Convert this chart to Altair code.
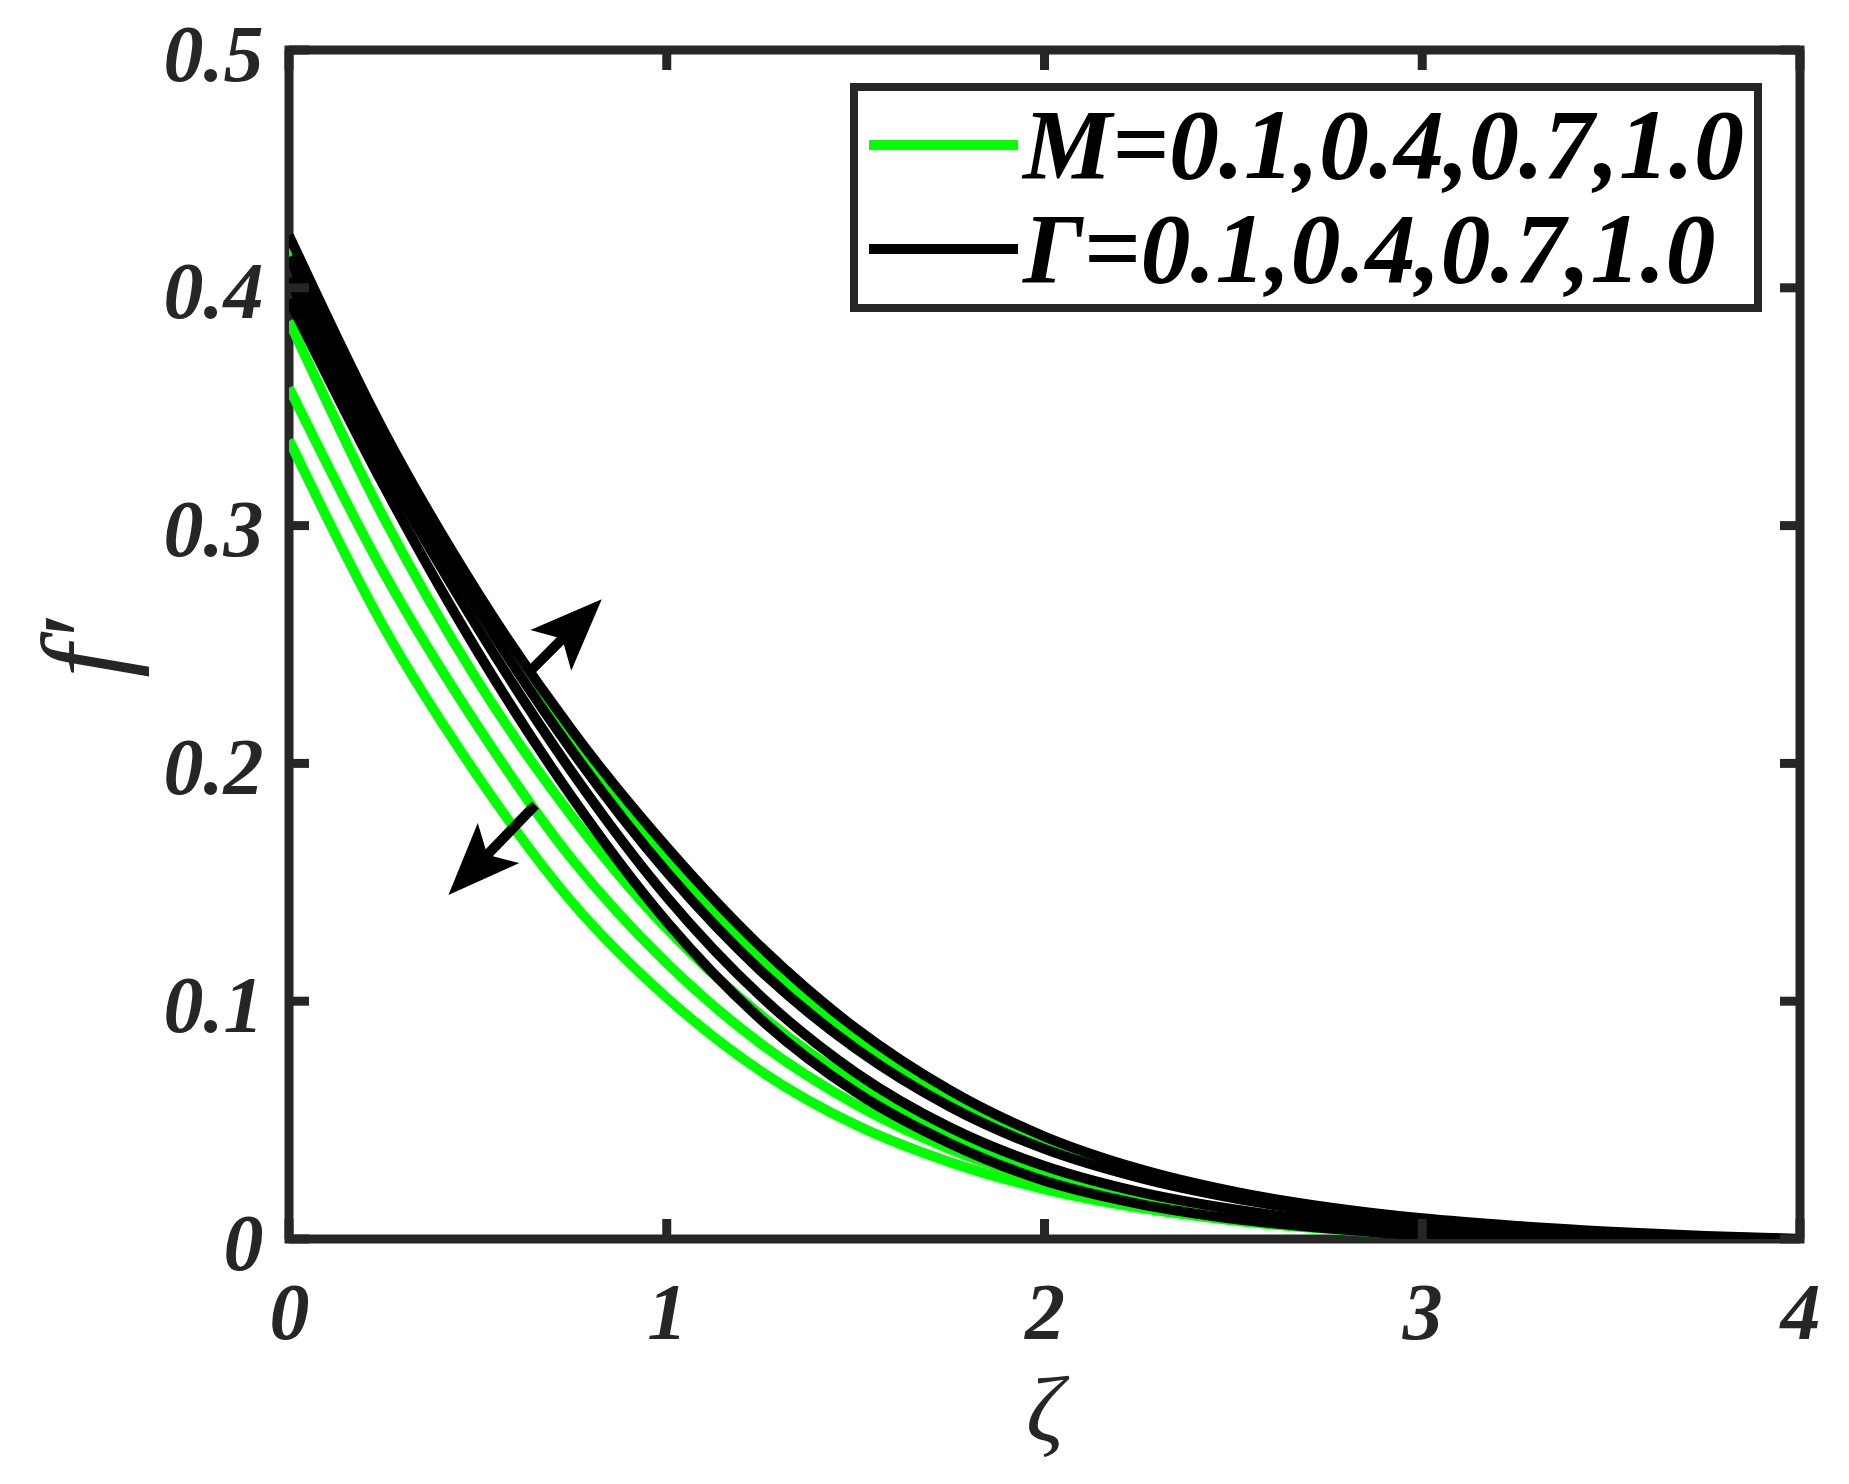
import math
import altair as alt
import pandas as pd

# ---------------- data ----------------
ZETA = [0, 0.25, 0.5, 0.75, 1.0, 1.25, 1.5, 1.75, 2.0, 2.25, 2.5, 2.75, 3.0, 3.25, 3.5, 3.75, 4.0]

M_CURVES = ["M=0.1", "M=0.4", "M=0.7", "M=1.0"]
F_M01 = [0.418, 0.3366, 0.2682, 0.2094, 0.1595, 0.1176, 0.0843, 0.0590, 0.0405, 0.0276, 0.0186, 0.0122, 0.0075, 0.0045, 0.0024, 0.0010, 0.0]
F_M04 = [0.386, 0.3035, 0.2345, 0.1775, 0.1305, 0.0940, 0.0655, 0.0445, 0.0280, 0.0178, 0.0110, 0.0063, 0.0030, 0.0012, 0.0004, 0.0, 0.0]
F_M07 = [0.358, 0.2805, 0.2155, 0.1595, 0.1160, 0.0820, 0.0566, 0.0378, 0.0242, 0.0150, 0.0088, 0.0048, 0.0021, 0.0008, 0.0002, 0.0, 0.0]
F_M10 = [0.336, 0.2575, 0.1945, 0.1415, 0.1015, 0.0705, 0.0480, 0.0323, 0.0210, 0.0132, 0.0078, 0.0042, 0.0018, 0.0006, 0.0002, 0.0, 0.0]

G_CURVES = ["Γ=0.1", "Γ=0.4", "Γ=0.7", "Γ=1.0"]
F_G01 = [0.395, 0.3170, 0.2468, 0.1856, 0.1334, 0.0922, 0.0618, 0.0402, 0.0245, 0.0148, 0.0085, 0.0045, 0.0015, 0.0004, 0.0, 0.0, 0.0]
F_G04 = [0.404, 0.3250, 0.2569, 0.1961, 0.1438, 0.1019, 0.0700, 0.0469, 0.0307, 0.0198, 0.0125, 0.0075, 0.0041, 0.0020, 0.0008, 0.0002, 0.0]
F_G07 = [0.413, 0.3332, 0.2647, 0.2051, 0.1543, 0.1126, 0.0801, 0.0556, 0.0379, 0.0258, 0.0172, 0.0110, 0.0064, 0.0035, 0.0017, 0.0006, 0.0]
F_G10 = [0.422, 0.3400, 0.2717, 0.2137, 0.1648, 0.1227, 0.0886, 0.0625, 0.0431, 0.0295, 0.0200, 0.0134, 0.0087, 0.0055, 0.0031, 0.0013, 0.0]

X_TICKS = [0, 1, 2, 3, 4]
Y_TICKS = [0, 0.1, 0.2, 0.3, 0.4, 0.5]

LEGEND_LABELS = ["M=0.1,0.4,0.7,1.0", "Γ=0.1,0.4,0.7,1.0"]

# arrows (annotation): tail -> tip in data coordinates
ARROW_TAIL_ZETA = [0.630, 0.652]
ARROW_TAIL_F = [0.2375, 0.1825]
ARROW_TIP_ZETA = [0.828, 0.422]
ARROW_TIP_F = [0.2690, 0.1447]

# ---------------- styling ----------------
W, H = 1511, 1189
FONT = "Liberation Serif"
AXIS_COLOR = "#262626"
GREEN = "#00ff00"
BLACK = "#000000"
LW = 10

xs = alt.Scale(domain=[0, 4], nice=False, zero=False)
ys = alt.Scale(domain=[0, 0.5], nice=False, zero=False)


def long_df(names, series):
    rows = []
    for name, vals in zip(names, series):
        for z, v in zip(ZETA, vals):
            rows.append({"zeta": z, "f": v, "curve": name})
    return pd.DataFrame(rows)


df_m = long_df(M_CURVES, [F_M01, F_M04, F_M07, F_M10])
df_g = long_df(G_CURVES, [F_G01, F_G04, F_G07, F_G10])

x_axis = alt.Axis(
    values=X_TICKS, format="d", title="ζ", domain=False, ticks=False, grid=False,
    labelFlush=False, labelFont=FONT, labelFontSize=80, labelFontStyle="italic",
    labelFontWeight="bold", labelColor=AXIS_COLOR, labelPadding=36,
    titleFont=FONT, titleFontSize=94, titleFontStyle="italic", titleFontWeight="normal",
    titleColor=AXIS_COLOR, titleY=201, titleBaseline="alphabetic",
)
y_axis = alt.Axis(
    values=Y_TICKS, format=".1~f", title="f′", domain=False, ticks=False, grid=False,
    labelFont=FONT, labelFontSize=80, labelFontStyle="italic", labelFontWeight="bold",
    labelColor=AXIS_COLOR, labelPadding=26, labelOffset=6,
    titleFont=FONT, titleFontSize=118, titleFontStyle="italic", titleFontWeight="normal",
    titleColor=AXIS_COLOR, titleAngle=270, titleX=-166, titleY=598,
    titleBaseline="alphabetic", titleAlign="center",
)


def X(field):
    return alt.X(field, scale=xs, axis=x_axis)


def Y(field):
    return alt.Y(field, scale=ys, axis=y_axis)


green = alt.Chart(df_m).mark_line(
    color=GREEN, strokeWidth=LW, interpolate="monotone", clip=True
).encode(x=X("zeta:Q"), y=Y("f:Q"), detail="curve:N", order="zeta:Q")
black = alt.Chart(df_g).mark_line(
    color=BLACK, strokeWidth=LW, interpolate="monotone", clip=True
).encode(x=X("zeta:Q"), y=Y("f:Q"), detail="curve:N", order="zeta:Q")

# inner ticks on all four sides (MATLAB box style)
TL = 20
tx = alt.Chart(pd.DataFrame({"zeta": X_TICKS}))
ty = alt.Chart(pd.DataFrame({"f": Y_TICKS}))
tick_style = dict(color=AXIS_COLOR, strokeWidth=9)
ticks_bottom = tx.mark_rule(**tick_style).encode(
    x=X("zeta:Q"), y=alt.value(H), y2=alt.value(H - TL))
ticks_top = tx.mark_rule(**tick_style).encode(
    x=X("zeta:Q"), y=alt.value(0), y2=alt.value(TL))
ticks_left = ty.mark_rule(**tick_style).encode(
    y=Y("f:Q"), x=alt.value(0), x2=alt.value(TL))
ticks_right = ty.mark_rule(**tick_style).encode(
    y=Y("f:Q"), x=alt.value(W), x2=alt.value(W - TL))

# arrows
PX_X = W / 4.0
PX_Y = H / 0.5
arows = []
for tz, tf, hz, hf in zip(ARROW_TAIL_ZETA, ARROW_TAIL_F, ARROW_TIP_ZETA, ARROW_TIP_F):
    dx = (hz - tz) * PX_X
    dy = -(hf - tf) * PX_Y
    L = math.hypot(dx, dy)
    ux, uy = dx / L, dy / L
    back = 32
    ez = hz - ux * back / PX_X
    ef = hf + uy * back / PX_Y
    ang = math.degrees(math.atan2(dx, -dy)) % 360
    arows.append({"zeta": tz, "f": tf, "zeta_end": ez, "f_end": ef,
                  "zeta_tip": hz, "f_tip": hf, "ang": ang})
adf = pd.DataFrame(arows)
shafts = alt.Chart(adf).mark_rule(color=BLACK, strokeWidth=10, strokeCap="butt").encode(
    x=X("zeta:Q"), y=Y("f:Q"), x2="zeta_end:Q", y2="f_end:Q")
HEAD_PATH = "M0,0L0.8,2L0,1.55L-0.8,2Z"
heads = alt.Chart(adf).mark_point(
    shape=HEAD_PATH, size=5200, filled=True, color=BLACK, opacity=1, strokeWidth=0
).encode(x=X("zeta_tip:Q"), y=Y("f_tip:Q"), angle=alt.Angle("ang:Q", scale=None))

# legend (drawn by hand, MATLAB style)
one = alt.Chart(pd.DataFrame({"k": [0]}))
leg_box = one.mark_rect(fill="white", stroke=AXIS_COLOR, strokeWidth=8).encode(
    x=alt.value(565), x2=alt.value(1469), y=alt.value(37), y2=alt.value(258))
leg_line_m = one.mark_rule(color=GREEN, strokeWidth=LW).encode(
    x=alt.value(580), x2=alt.value(729), y=alt.value(95))
leg_line_g = one.mark_rule(color=BLACK, strokeWidth=LW).encode(
    x=alt.value(580), x2=alt.value(729), y=alt.value(199))
text_style = dict(align="left", baseline="alphabetic", font=FONT, fontSize=100,
                  fontStyle="italic", fontWeight="bold", color=BLACK)
leg_text_m = alt.Chart(pd.DataFrame({"label": [LEGEND_LABELS[0]]})).mark_text(**text_style).encode(
    x=alt.value(734), y=alt.value(128), text="label:N")
leg_text_g = alt.Chart(pd.DataFrame({"label": [LEGEND_LABELS[1]]})).mark_text(**text_style).encode(
    x=alt.value(734), y=alt.value(232), text="label:N")

chart = alt.layer(
    green, black, ticks_bottom, ticks_top, ticks_left, ticks_right,
    shafts, heads, leg_box, leg_line_m, leg_line_g, leg_text_m, leg_text_g,
).properties(
    width=W, height=H,
    autosize=alt.AutoSizeParams(type="none"),
    padding={"left": 281, "top": 42, "right": 40, "bottom": 230},
    background="white",
).configure_view(stroke=AXIS_COLOR, strokeWidth=9)

chart.save("out.html", embed_options={"renderer": "svg", "actions": False})
